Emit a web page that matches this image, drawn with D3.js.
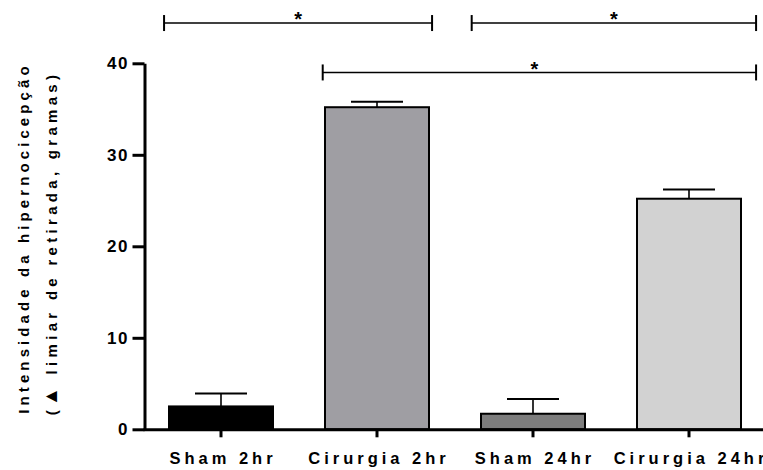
<!DOCTYPE html>
<html><head><meta charset="utf-8">
<script src="https://cdn.jsdelivr.net/npm/d3@7"></script>
<style>
body{margin:0;background:#fff;}
text{font-family:"Liberation Sans",Arial,sans-serif;font-weight:bold;fill:#000;}
</style></head>
<body><svg id="c" width="763" height="470"></svg>
<script>
const categories = ["Sham 2hr", "Cirurgia 2hr", "Sham 24hr", "Cirurgia 24hr"];
const means = [2.5, 35.2, 1.7, 25.2];
const sems = [1.4, 0.6, 1.6, 1.0];
const colors = ["#000000", "#9f9ea3", "#7d7d7d", "#d2d2d2"];
const yTicks = [0, 10, 20, 30, 40];
// significance brackets: start/end in category-index units, height in data units
const bracketStart = [-0.365, 1.607, 0.652];
const bracketEnd = [1.353, 3.43, 3.43];
const bracketLevel = [44.4, 44.4, 39.0];
const bracketLabel = ["*", "*", "*"];

const svg = d3.select("#c");
const y = d3.scaleLinear().domain([0, 40]).range([429.3, 63.3]);
const x = d3.scaleBand().domain(categories).range([143, 767]).paddingInner(1/3).paddingOuter(1/6);
const xi = d3.scaleLinear().domain([-0.5, 3.5]).range([143, 767]);

// bars
svg.selectAll("rect.bar").data(categories).join("rect")
  .attr("class","bar")
  .attr("x", d => x(d))
  .attr("width", x.bandwidth())
  .attr("y", (d,i) => y(means[i]))
  .attr("height", (d,i) => y(0) - y(means[i]))
  .attr("fill", (d,i) => colors[i])
  .attr("stroke", "#000").attr("stroke-width", 2);

// error bars (upper only)
const eb = svg.selectAll("g.eb").data(categories).join("g").attr("class","eb");
eb.append("line")
  .attr("x1", d => x(d) + x.bandwidth()/2).attr("x2", d => x(d) + x.bandwidth()/2)
  .attr("y1", (d,i) => y(means[i])).attr("y2", (d,i) => y(means[i] + sems[i]))
  .attr("stroke","#000").attr("stroke-width",1.6);
eb.append("line")
  .attr("x1", d => x(d) + x.bandwidth()/4).attr("x2", d => x(d) + x.bandwidth()*3/4)
  .attr("y1", (d,i) => y(means[i] + sems[i])).attr("y2", (d,i) => y(means[i] + sems[i]))
  .attr("stroke","#000").attr("stroke-width",2);

// x axis
const xAxis = svg.append("g").attr("transform", `translate(0,${y(0)})`)
  .call(d3.axisBottom(x).tickSize(8).tickSizeOuter(0).tickPadding(14.5));
xAxis.select(".domain").attr("stroke-width", 3);
xAxis.selectAll(".tick line").attr("stroke-width", 3);
xAxis.selectAll(".tick text").attr("font-size", 16.5).attr("letter-spacing", "4px")
  .attr("fill","#000").attr("dx", "2px");

// y axis
const yAxis = svg.append("g").attr("transform", "translate(144.5,0)")
  .call(d3.axisLeft(y).tickValues(yTicks).tickSize(12).tickSizeOuter(0).tickPadding(5));
yAxis.select(".domain").attr("stroke-width", 3);
yAxis.selectAll(".tick line").attr("stroke-width", 3);
yAxis.selectAll(".tick text").attr("font-size", 17).attr("letter-spacing", "1.5px")
  .attr("fill","#000").attr("dx", "1.5px");

// y label
svg.append("text").attr("transform", "translate(29,238) rotate(-90)")
  .attr("text-anchor","middle").attr("font-size", 15).attr("letter-spacing","4.1px")
  .text("Intensidade da hipernocicepção");
const l2 = svg.append("text").attr("transform", "translate(57,243) rotate(-90)")
  .attr("text-anchor","middle").attr("font-size", 15).attr("letter-spacing","4.3px");
l2.append("tspan").text("(");
l2.append("tspan").attr("font-size", 19).text("▲");
l2.append("tspan").text(" limiar de retirada, gramas)");

// significance brackets
const br = svg.selectAll("g.br").data(bracketLevel).join("g").attr("class","br");
br.append("line")
  .attr("x1", (d,i) => xi(bracketStart[i])).attr("x2", (d,i) => xi(bracketEnd[i]))
  .attr("y1", d => y(d)).attr("y2", d => y(d))
  .attr("stroke","#000").attr("stroke-width",1.6);
br.append("line")
  .attr("x1", (d,i) => xi(bracketStart[i])).attr("x2", (d,i) => xi(bracketStart[i]))
  .attr("y1", d => y(d) - 8).attr("y2", d => y(d) + 8)
  .attr("stroke","#000").attr("stroke-width",2);
br.append("line")
  .attr("x1", (d,i) => xi(bracketEnd[i])).attr("x2", (d,i) => xi(bracketEnd[i]))
  .attr("y1", d => y(d) - 8).attr("y2", d => y(d) + 8)
  .attr("stroke","#000").attr("stroke-width",2);
br.append("text")
  .attr("x", (d,i) => (xi(bracketStart[i]) + xi(bracketEnd[i]))/2 + (i===2 ? -5 : 0))
  .attr("y", d => y(d) + 3.3)
  .attr("text-anchor","middle").attr("font-size", 20).attr("font-weight","normal")
  .text((d,i) => bracketLabel[i]);
</script></body></html>
